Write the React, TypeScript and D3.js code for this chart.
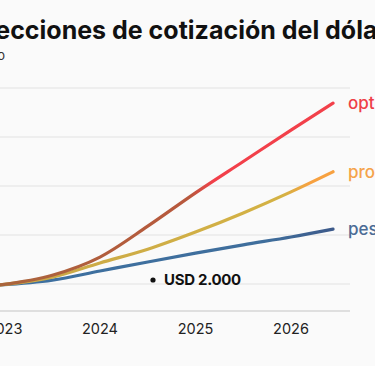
import React from "react";
import * as d3 from "d3";

const years = [2022.95, 2023.5, 2024, 2024.5, 2025, 2025.5, 2026, 2026.44];
const optimista = [1980, 2180, 2550, 3180, 3860, 4500, 5140, 5690];
const promedio = [1980, 2140, 2430, 2710, 3060, 3450, 3880, 4290];
const pesimista = [1980, 2080, 2265, 2450, 2630, 2800, 2960, 3120];
const xTicks = [2023, 2024, 2025, 2026];
const yTicks = [2000, 3000, 4000, 5000, 6000];

const W = 375;
const H = 366;

export default function App() {
  const x = d3.scaleLinear().domain([2023, 2026]).range([4.5, 291]);
  const y = d3.scaleLinear().domain([2000, 6000]).range([284, 88]);
  const line = d3
    .line<[number, number]>()
    .x((d) => x(d[0]))
    .y((d) => y(d[1]))
    .curve(d3.curveMonotoneX);

  const series = [
    { name: "optimista", values: optimista, grad: "gOpt", label: "#ef3f47" },
    { name: "promedio", values: promedio, grad: "gProm", label: "#f5a34a" },
    { name: "pesimista", values: pesimista, grad: "gPes", label: "#4a6b95" },
  ];
  const lastX = x(years[years.length - 1]);

  return (
    <svg
      width={W}
      height={H}
      style={{ position: "absolute", left: 0, top: 0, background: "#fafafa", fontFamily: "Inter, sans-serif" }}
    >
      <defs>
        <linearGradient id="gOpt" gradientUnits="userSpaceOnUse" x1={0} x2={lastX} y1={0} y2={0}>
          <stop offset="0%" stopColor="#a9643c" />
          <stop offset="57%" stopColor="#b8583d" />
          <stop offset="64%" stopColor="#f2404a" />
          <stop offset="100%" stopColor="#f2404a" />
        </linearGradient>
        <linearGradient id="gProm" gradientUnits="userSpaceOnUse" x1={0} x2={lastX} y1={0} y2={0}>
          <stop offset="0%" stopColor="#c9a848" />
          <stop offset="85%" stopColor="#d4b244" />
          <stop offset="93%" stopColor="#f7a140" />
          <stop offset="100%" stopColor="#f7a140" />
        </linearGradient>
        <linearGradient id="gPes" gradientUnits="userSpaceOnUse" x1={0} x2={lastX} y1={0} y2={0}>
          <stop offset="0%" stopColor="#3d70a0" />
          <stop offset="80%" stopColor="#3f6e9c" />
          <stop offset="100%" stopColor="#3d5a8a" />
        </linearGradient>
      </defs>
      <rect x={0} y={0} width={W} height={H} fill="#fafafa" />
      <text x={-60} y={39} fontSize={25} fontWeight={700} fill="#111">
        Proyecciones de cotización del dólar
      </text>
      <text x={5} y={60} fontSize={13} fill="#333" textAnchor="end">
        Pesos por dólar, promedio
      </text>
      {yTicks.map((t) => (
        <line key={t} x1={0} x2={350} y1={y(t)} y2={y(t)} stroke="#e2e2e2" strokeWidth={1.2} />
      ))}
      <line x1={0} x2={350} y1={311} y2={311} stroke="#c4c4c4" strokeWidth={1.2} />
      {xTicks.map((t) => (
        <text key={t} x={x(t)} y={334} fontSize={14.5} fill="#222" textAnchor="middle">
          {t}
        </text>
      ))}
      {series
        .slice()
        .reverse()
        .map((s) => (
          <path
            key={s.name}
            d={line(years.map((yr, i) => [yr, s.values[i]]))!}
            fill="none"
            stroke={`url(#${s.grad})`}
            strokeWidth={3.2}
            strokeLinecap="round"
          />
        ))}
      {series.map((s) => (
        <text
          key={s.name}
          x={348}
          y={y(s.values[s.values.length - 1]) + 6}
          fontSize={17}
          fontWeight={500}
          fill={s.label}
        >
          {s.name}
        </text>
      ))}
      <circle cx={153} cy={280} r={2.6} fill="#111" />
      <text x={164} y={285} fontSize={15} fontWeight={700} fill="#111" letterSpacing={-0.3}>
        USD 2.000
      </text>
    </svg>
  );
}
